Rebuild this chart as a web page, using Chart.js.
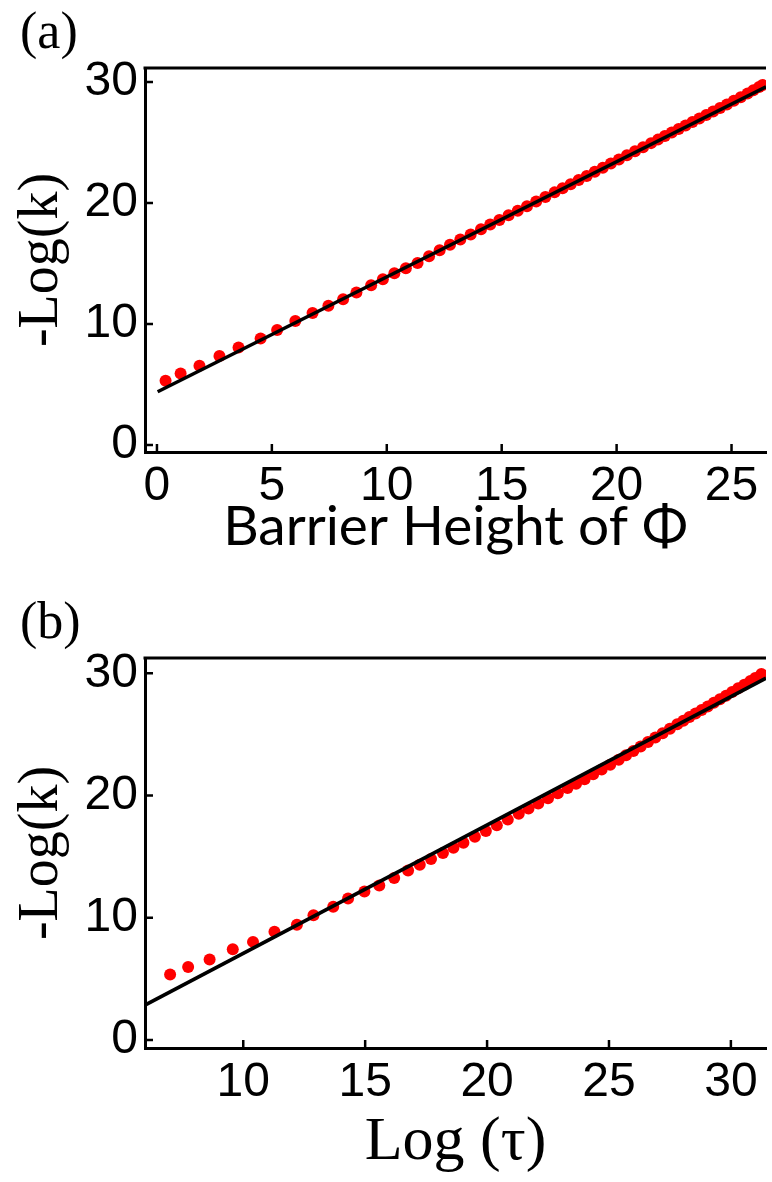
<!DOCTYPE html>
<html>
<head>
<meta charset="utf-8">
<script src="https://cdn.jsdelivr.net/npm/chart.js@4/dist/chart.umd.min.js"></script>
<style>
    html, body { margin: 0; padding: 0; background: #fff; overflow: hidden; }
    .painel { position: absolute; left: 0; }
</style>
</head>
<body>
<div class="painel" style="top:0"><canvas id="grafico-a" width="772" height="590"></canvas></div>
<div class="painel" style="top:590px"><canvas id="grafico-b" width="772" height="592"></canvas></div>
<script>
// painel (a): -Log(k) vs altura da barreira
const aX = [0.375, 1.03, 1.85, 2.72, 3.55, 4.51, 5.23, 6.02, 6.77, 7.46, 8.1, 8.68, 9.32, 9.83, 10.33, 10.83, 11.34, 11.84,
    12.3, 12.75, 13.2, 13.65, 14.1, 14.5, 14.9, 15.3, 15.7, 16.1, 16.5, 16.9, 17.3, 17.65, 18.0, 18.35, 18.7, 19.05,
    19.4, 19.75, 20.1, 20.45, 20.8, 21.15, 21.5, 21.8, 22.1, 22.4, 22.7, 23.0, 23.3, 23.6, 23.9, 24.2, 24.5, 24.8,
    25.1, 25.4, 25.7, 25.95, 26.2, 26.35];
const aY = [5.3, 5.9, 6.55, 7.35, 8.05, 8.8, 9.5, 10.25, 10.9, 11.5, 12.05, 12.6, 13.2, 13.7, 14.2, 14.6, 15.05, 15.6,
    16.1, 16.55, 16.98, 17.4, 17.83, 18.22, 18.6, 18.98, 19.36, 19.73, 20.12, 20.5, 20.88, 21.22, 21.56, 21.9, 22.24, 22.58,
    22.92, 23.26, 23.6, 23.94, 24.27, 24.61, 24.95, 25.24, 25.53, 25.82, 26.11, 26.4, 26.69, 26.98, 27.27, 27.56, 27.86, 28.15,
    28.45, 28.75, 29.05, 29.32, 29.58, 29.75];
const aFitX = [0.03, 26.5];
const aFitY = [4.4, 29.6];
const aXTicks = [0, 5, 10, 15, 20, 25];
const aYTicks = [0, 10, 20, 30];

// painel (b): -Log(k) vs Log(tau)
const bX = [7.0, 7.74, 8.62, 9.57, 10.4, 11.28, 12.2, 12.88, 13.69, 14.3, 14.97, 15.58, 16.19, 16.76, 17.24, 17.7, 18.19, 18.62,
    19.03, 19.5, 19.95, 20.4, 20.85, 21.3, 21.7, 22.1, 22.5, 22.9, 23.3, 23.65, 24.0, 24.35, 24.7, 25.05, 25.4, 25.7,
    26.0, 26.3, 26.6, 26.9, 27.2, 27.5, 27.8, 28.05, 28.3, 28.55, 28.8, 29.05, 29.3, 29.55, 29.8, 30.05, 30.3, 30.55,
    30.8, 31.0, 31.25];
const bY = [5.36, 5.98, 6.59, 7.43, 8.03, 8.85, 9.44, 10.2, 10.9, 11.57, 12.16, 12.65, 13.25, 13.86, 14.33, 14.8, 15.29, 15.72,
    16.14, 16.62, 17.09, 17.56, 18.03, 18.51, 18.93, 19.35, 19.77, 20.19, 20.61, 20.97, 21.34, 21.74, 22.13, 22.52, 22.93, 23.29,
    23.64, 24.01, 24.37, 24.74, 25.1, 25.47, 25.83, 26.12, 26.42, 26.71, 27.0, 27.29, 27.59, 27.88, 28.17, 28.46, 28.77, 29.07,
    29.37, 29.62, 29.95];
const bFitX = [5.97, 31.44];
const bFitY = [2.86, 29.6];
const bXTicks = [10, 15, 20, 25, 30];
const bYTicks = [0, 10, 20, 30];

const fonteNum = "'Liberation Sans', Arial, sans-serif";
const fonteSerif = "'Liberation Serif', 'Times New Roman', serif";

function pares(xs, ys) {
    return xs.map((x, i) => ({ x: x, y: ys[i] }));
}

// moldura de cima + marcas dos ticks para dentro
const moldura = {
    id: 'moldura',
    afterDraw(chart) {
        const { ctx, chartArea: a, scales } = chart;
        ctx.save();
        ctx.strokeStyle = '#000';
        ctx.lineWidth = 3;
        ctx.beginPath();
        ctx.moveTo(a.left - 1.5, a.top);
        ctx.lineTo(a.right, a.top);
        ctx.stroke();
        ctx.lineWidth = 2.5;
        ctx.beginPath();
        scales.x.ticks.forEach((t, i) => {
            const px = scales.x.getPixelForTick(i);
            ctx.moveTo(px, a.bottom);
            ctx.lineTo(px, a.bottom - 8);
        });
        scales.y.ticks.forEach((t, i) => {
            const py = scales.y.getPixelForTick(i);
            ctx.moveTo(a.left, py);
            ctx.lineTo(a.left + 8, py);
        });
        ctx.stroke();
        ctx.restore();
    }
};

function criarGrafico(id, cfg) {
    return new Chart(document.getElementById(id), {
        type: 'scatter',
        data: {
            datasets: [
                {
                    type: 'line',
                    data: pares(cfg.fitX, cfg.fitY),
                    borderColor: '#000',
                    borderWidth: 3.5,
                    pointRadius: 0,
                    fill: false
                },
                {
                    data: pares(cfg.xs, cfg.ys),
                    backgroundColor: '#ff0000',
                    borderWidth: 0,
                    pointRadius: 6
                }
            ]
        },
        options: {
            responsive: false,
            animation: false,
            layout: { padding: { left: 20, right: 0, top: 0, bottom: 0 } },
            plugins: {
                legend: { display: false },
                tooltip: { enabled: false },
                title: {
                    display: true,
                    text: cfg.letra,
                    align: 'start',
                    color: '#000',
                    font: { family: fonteSerif, size: 52, weight: 'normal', lineHeight: 1 },
                    padding: { top: 8, bottom: 8 }
                }
            },
            scales: {
                x: {
                    min: cfg.xMin,
                    max: cfg.xMax,
                    afterBuildTicks: s => { s.ticks = cfg.xTicks.map(v => ({ value: v })); },
                    afterFit: s => { s.height = cfg.xAltura; },
                    grid: { display: false, drawTicks: false },
                    border: { display: true, color: '#000', width: 3 },
                    ticks: {
                        color: '#000',
                        padding: 6,
                        maxRotation: 0,
                        font: { family: fonteNum, size: 48 }
                    },
                    title: {
                        display: true,
                        text: cfg.tituloX,
                        color: '#000',
                        font: cfg.fonteTituloX,
                        padding: { top: 0, bottom: cfg.padTituloX }
                    }
                },
                y: {
                    min: cfg.yMin,
                    max: cfg.yMax,
                    afterBuildTicks: s => { s.ticks = cfg.yTicks.map(v => ({ value: v })); },
                    afterFit: s => { s.width = 125; },
                    grid: { display: false, drawTicks: false },
                    border: { display: true, color: '#000', width: 3 },
                    ticks: {
                        color: '#000',
                        padding: 7,
                        font: { family: fonteNum, size: 48 }
                    },
                    title: {
                        display: true,
                        text: '-Log(k)',
                        color: '#000',
                        font: { family: fonteSerif, size: 56, lineHeight: 0.8 },
                        padding: { top: 0, bottom: 0 }
                    }
                }
            }
        },
        plugins: [moldura]
    });
}

criarGrafico('grafico-a', {
    letra: '(a)',
    xs: aX, ys: aY, fitX: aFitX, fitY: aFitY,
    xTicks: aXTicks, yTicks: aYTicks,
    xMin: -0.52, xMax: 26.5, yMin: -0.58, yMax: 31.16,
    xAltura: 138,
    tituloX: 'Barrier Height of Φ',
    fonteTituloX: { family: "Lato, 'Open Sans', sans-serif", size: 55, lineHeight: 1 },
    padTituloX: 35
});

criarGrafico('grafico-b', {
    letra: '(b)',
    xs: bX, ys: bY, fitX: bFitX, fitY: bFitY,
    xTicks: bXTicks, yTicks: bYTicks,
    xMin: 5.97, xMax: 31.44, yMin: -0.65, yMax: 31.25,
    xAltura: 134,
    tituloX: 'Log (τ)',
    fonteTituloX: { family: fonteSerif, size: 62, lineHeight: 1 },
    padTituloX: 8
});
</script>
</body>
</html>
